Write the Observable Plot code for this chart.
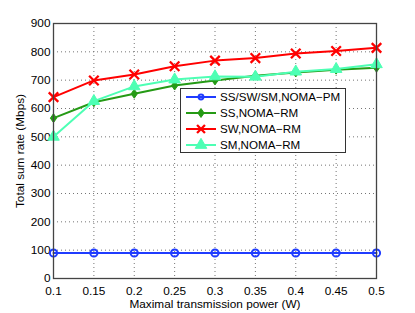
<!DOCTYPE html>
<html><head><meta charset="utf-8">
<script src="https://cdn.jsdelivr.net/npm/d3@7"></script>
<script src="https://cdn.jsdelivr.net/npm/@observablehq/plot@0.6"></script>
<style>
body{margin:0;background:#fff;}
#wrap{position:relative;width:415px;height:313px;font-family:"Liberation Sans",Arial,sans-serif;}
#legend{position:absolute;}
</style>
</head><body><div id="wrap"></div>
<script>
const power = [0.1, 0.15, 0.2, 0.25, 0.3, 0.35, 0.4, 0.45, 0.5];
const xTicks = [0.1, 0.15, 0.2, 0.25, 0.3, 0.35, 0.4, 0.45, 0.5];
const xTickLabels = ["0.1","0.15","0.2","0.25","0.3","0.35","0.4","0.45","0.5"];
const yTicks = [0, 100, 200, 300, 400, 500, 600, 700, 800, 900];
const seriesNames = ["SS/SW/SM,NOMA\u2212PM", "SS,NOMA\u2212RM", "SW,NOMA\u2212RM", "SM,NOMA\u2212RM"];
const pmRate = [90, 90, 90, 90, 90, 90, 90, 90, 90];
const ssRate = [566, 622, 652, 681, 699, 716, 727, 737, 744];
const swRate = [640, 699, 720, 749, 769, 778, 794, 803, 814];
const smRate = [500, 626, 678, 702, 713, 712, 730, 739, 756];
const colors = ["#1f3cff", "#259a15", "#ff0000", "#4dffb4"];
const xLabel = "Maximal transmission power (W)";
const yLabel = "Total sum rate (Mbps)";

const tallDiamond = {
  draw(ctx, size) {
    const h = Math.sqrt(size) * 0.6, w = h * 0.7;
    ctx.moveTo(0, -h); ctx.lineTo(w, 0); ctx.lineTo(0, h); ctx.lineTo(-w, 0); ctx.closePath();
  }
};
const styles = [
  {symbol: "circle", fill: "none", r: 3.6, sw: 2},
  {symbol: tallDiamond, fill: "same", r: 4.2, sw: 1},
  {symbol: "times", fill: "none", r: 4.4, sw: 2.3},
  {symbol: "triangle", fill: "same", r: 4.3, sw: 1}
];
const allValues = [pmRate, ssRate, swRate, smRate];
const rows = [];
allValues.forEach((vals, s) => vals.forEach((v, i) => rows.push({x: power[i], y: v, s})));

const marks = [
  Plot.gridX(xTicks, {stroke: "#666", strokeOpacity: 0.9, strokeDasharray: "1,3"}),
  Plot.gridY(yTicks, {stroke: "#666", strokeOpacity: 0.9, strokeDasharray: "1,3"}),
  Plot.axisX(xTicks, {tickSize: 0, tickPadding: 8, tickFormat: (d, i) => xTickLabels[i], fontSize: 11.8, label: xLabel, labelAnchor: "center", labelArrow: "none", labelOffset: 29}),
  Plot.axisY(yTicks, {tickSize: 0, tickPadding: 3, fontSize: 11.8, label: yLabel, labelAnchor: "center", labelArrow: "none", labelOffset: 38})
];
allValues.forEach((vals, s) => {
  const data = rows.filter(r => r.s === s);
  const st = styles[s];
  const c = colors[s];
  marks.push(Plot.line(data, {x: "x", y: "y", stroke: c, strokeWidth: 2}));
  marks.push(Plot.dot(data, {x: "x", y: "y", symbol: st.symbol, r: st.r,
    fill: st.fill === "same" ? c : st.fill,
    stroke: c, strokeWidth: st.sw}));
});
marks.push(Plot.frame({stroke: "#444", strokeWidth: 1.3}));

const chart = Plot.plot({
  width: 415, height: 313,
  marginLeft: 53, marginRight: 39, marginTop: 23, marginBottom: 35,
  style: {fontFamily: "'Liberation Sans', Arial, sans-serif", fontSize: "11.8px", color: "#000", background: "#fff"},
  x: {domain: [0.1, 0.5]},
  y: {domain: [0, 900]},
  marks
});
const wrap = document.getElementById("wrap");
wrap.appendChild(chart);

// legend overlay
const lg = d3.select(wrap).append("svg").attr("id", "legend")
  .attr("width", 167).attr("height", 66)
  .style("left", "180px").style("top", "88px");
lg.append("rect").attr("x", 0.5).attr("y", 0.5).attr("width", 165).attr("height", 64)
  .attr("fill", "#fff").attr("stroke", "#333");
seriesNames.forEach((name, i) => {
  const yy = 9 + i * 16;
  const c = colors[i];
  const g = lg.append("g");
  g.append("line").attr("x1", 6).attr("x2", 36).attr("y1", yy).attr("y2", yy)
    .attr("stroke", c).attr("stroke-width", 2);
  const st = styles[i];
  const symType = typeof st.symbol === "string"
    ? {circle: d3.symbolCircle, times: d3.symbolTimes, triangle: d3.symbolTriangle}[st.symbol]
    : st.symbol;
  const sz = Math.PI * st.r * st.r * (i === 0 ? 0.45 : i === 2 ? 0.7 : 1);
  g.append("path").attr("d", d3.symbol(symType, sz)())
    .attr("transform", `translate(21,${yy})`)
    .attr("fill", st.fill === "same" ? c : st.fill)
    .attr("stroke", c).attr("stroke-width", st.sw);
  g.append("text").attr("x", 40).attr("y", yy).attr("dy", "0.36em")
    .attr("font-size", 11.6).attr("fill", "#000").text(name);
});
</script>
</body></html>
